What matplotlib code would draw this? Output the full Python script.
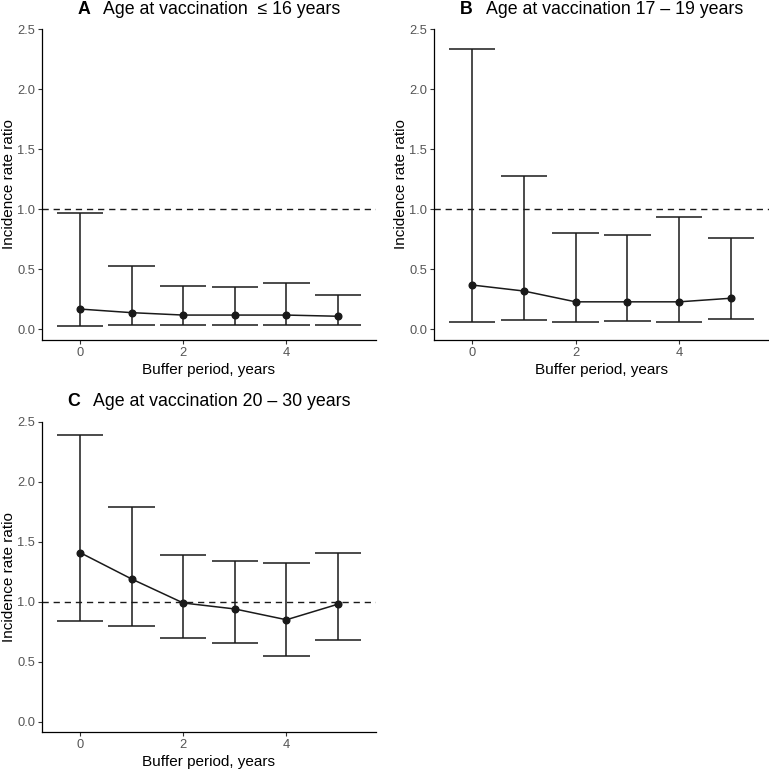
import numpy as np
import matplotlib
matplotlib.use("Agg")
import matplotlib.pyplot as plt

plt.rcParams['font.family'] = ['Liberation Sans', 'DejaVu Sans']

buffer_years = [0, 1, 2, 3, 4, 5]

# panel A: age <= 16
irr_a = [0.17, 0.14, 0.12, 0.12, 0.12, 0.11]
low_a = [0.03, 0.04, 0.04, 0.04, 0.04, 0.04]
up_a = [0.97, 0.53, 0.36, 0.35, 0.39, 0.29]

# panel B: age 17-19
irr_b = [0.37, 0.32, 0.23, 0.23, 0.23, 0.26]
low_b = [0.06, 0.08, 0.06, 0.07, 0.06, 0.09]
up_b = [2.33, 1.28, 0.80, 0.79, 0.94, 0.76]

# panel C: age 20-30
irr_c = [1.41, 1.19, 0.99, 0.94, 0.85, 0.98]
low_c = [0.84, 0.80, 0.70, 0.66, 0.55, 0.68]
up_c = [2.39, 1.79, 1.39, 1.34, 1.32, 1.41]

panel_letters = ['A', 'B', 'C']
panel_titles = ['Age at vaccination  \u2264 16 years',
                'Age at vaccination 17 \u2013 19 years',
                'Age at vaccination 20 \u2013 30 years']
y_ticks = [0.0, 0.5, 1.0, 1.5, 2.0, 2.5]
x_ticks = [0, 2, 4]

W = 769
fig = plt.figure(figsize=(7.69, 7.69), dpi=100)

# axes boxes in pixels: left, top, right, bottom
boxes = [(42, 29, 376, 340), (434, 29, 769, 340), (42, 421.7, 376, 732.3)]
title_base = [14, 14, 406]
data = [(irr_a, low_a, up_a), (irr_b, low_b, up_b), (irr_c, low_c, up_c)]

axes = []
for (l, t, r, b), (irr, low, up) in zip(boxes, data):
    ax = fig.add_axes([l / W, 1 - b / W, (r - l) / W, (b - t) / W])
    x = np.array(buffer_years)
    ax.axhline(1.0, color='#1a1a1a', lw=1.0, ls=(0, (4.5, 3.5)), zorder=1)
    ax.vlines(x, low, up, color='#1a1a1a', lw=1.1, zorder=2)
    ax.hlines(low, x - 0.45, x + 0.45, color='#1a1a1a', lw=1.1, zorder=2)
    ax.hlines(up, x - 0.45, x + 0.45, color='#1a1a1a', lw=1.1, zorder=2)
    ax.plot(x, irr, color='#1a1a1a', lw=1.1, marker='o', ms=4.8, zorder=3)
    ax.set_xlim(-0.735, 5.735)
    ax.set_ylim(-0.0875, 2.5)
    ax.set_xticks(x_ticks)
    ax.set_yticks(y_ticks)
    ax.set_yticklabels([f'{v:.1f}' for v in y_ticks])
    for s in ['top', 'right']:
        ax.spines[s].set_visible(False)
    for s in ['left', 'bottom']:
        ax.spines[s].set_linewidth(0.9)
        ax.spines[s].set_color('black')
    ax.tick_params(axis='both', labelsize=9.3, labelcolor='#555555', color='#333333',
                   length=3, width=0.8, pad=2)
    ax.set_xlabel('Buffer period, years', fontsize=11, labelpad=3)
    ax.set_ylabel('Incidence rate ratio', fontsize=11)
    ax.yaxis.set_label_coords(-0.078, 0.5)
    axes.append(ax)

# titles: bold letter followed by plain text, centred over the panel
fig.canvas.draw()
renderer = fig.canvas.get_renderer()
for ax, letter, title, (l, t, r, b), yb in zip(axes, panel_letters, panel_titles, boxes, title_base):
    t1 = fig.text(0, 0, letter, fontsize=12.8, fontweight='bold', va='baseline')
    t2 = fig.text(0, 0, title, fontsize=12.8, va='baseline')
    w1 = t1.get_window_extent(renderer).width
    w2 = t2.get_window_extent(renderer).width
    gap = 13
    total = w1 + gap + w2
    x0 = (l + r) / 2 - total / 2
    t1.set_position((x0 / W, 1 - yb / W))
    t2.set_position(((x0 + w1 + gap) / W, 1 - yb / W))

fig.savefig('out.png', dpi=100)
